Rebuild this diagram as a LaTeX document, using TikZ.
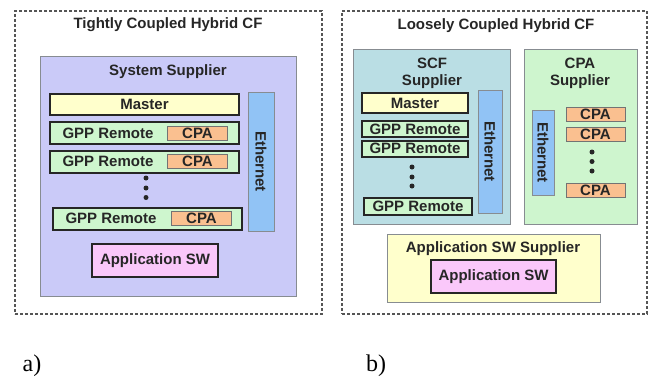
\documentclass[tikz,border=0pt]{standalone}
\usepackage{fontspec}
\setmainfont{Liberation Sans}
\newfontfamily\serifl{Liberation Serif}
\definecolor{lav}{RGB}{202,202,248}
\definecolor{myyel}{RGB}{255,255,204}
\definecolor{mygrn}{RGB}{206,246,206}
\definecolor{myorg}{RGB}{250,192,144}
\definecolor{myblu}{RGB}{145,195,245}
\definecolor{mypnk}{RGB}{250,200,250}
\definecolor{myteal}{RGB}{186,222,228}
\definecolor{cpagrn}{RGB}{206,245,206}
\definecolor{dashc}{RGB}{85,85,85}
\definecolor{contb}{RGB}{135,140,145}
\tikzset{
  txt/.style={font=\fontsize{15}{16}\selectfont\bfseries, text=black!85, inner sep=0pt},
  outerbox/.style={draw=dashc, line width=1.3pt, dash pattern=on 3pt off 2pt, inner sep=0pt},
  container/.style={draw=contb, line width=0.8pt, inner sep=0pt},
  thickbox/.style={draw=black!85, line width=2pt, inner sep=0pt, txt},
  cpabox/.style={draw=black!55, fill=myorg, line width=0.8pt, inner sep=0pt, txt, minimum width=60pt, minimum height=14pt},
  ethbox/.style={draw=contb, fill=myblu, line width=0.8pt, inner sep=0pt},
  dotm/.style={circle, fill=black!85, inner sep=0pt, minimum size=5pt},
  lbl/.style={font=\serifl\fontsize{24}{26}\selectfont, inner sep=0pt}
}
\begin{document}
\begin{tikzpicture}[x=1pt,y=-1pt]
\useasboundingbox (0,0) rectangle (654,381);
% ---------- a) ----------
\node[outerbox, minimum width=307pt, minimum height=303pt] (outA) at (168.5,162.5) {};
\node[txt] (titleA) at (168,25) {Tightly Coupled Hybrid CF};
\node[container, fill=lav, minimum width=256pt, minimum height=240pt] (sys) at (168,176) {};
\node[txt] (sysT) at (168,72) {System Supplier};
\node[thickbox, fill=myyel, minimum width=189pt, minimum height=21pt] (masterA) at (144.5,104.5) {Master};
\node[thickbox, fill=mygrn, minimum width=189pt, minimum height=22pt] (gppA1) at (144.5,133) {};
\node[txt] (gppA1t) at (108,133) {GPP Remote};
\node[cpabox] (cpaA1) at (197.5,133) {CPA};
\node[thickbox, fill=mygrn, minimum width=189pt, minimum height=22pt] (gppA2) at (144.5,161.5) {};
\node[txt] (gppA2t) at (108,161.5) {GPP Remote};
\node[cpabox] (cpaA2) at (197.5,161.5) {CPA};
\node[dotm] (dA1) at (146,178) {};
\node[dotm] (dA2) at (146,188) {};
\node[dotm] (dA3) at (146,197.5) {};
\node[thickbox, fill=mygrn, minimum width=189pt, minimum height=22pt] (gppA3) at (147.5,218.5) {};
\node[txt] (gppA3t) at (111,218.5) {GPP Remote};
\node[cpabox] (cpaA3) at (201.5,218.5) {CPA};
\node[ethbox, minimum width=26pt, minimum height=139pt] (ethA) at (261,161.5) {};
\node[txt, rotate=-90] (ethAt) at (261,161.5) {Ethernet};
\node[thickbox, fill=mypnk, minimum width=126pt, minimum height=33pt] (appA) at (155,260.5) {Application SW};
\node[lbl] (la) at (32,366) {a)};
% ---------- b) ----------
\node[outerbox, minimum width=305pt, minimum height=303pt] (outB) at (494.5,162.5) {};
\node[txt] (titleB) at (496,26) {Loosely Coupled Hybrid CF};
\node[container, fill=myteal, minimum width=157pt, minimum height=175pt] (scf) at (431.5,136.5) {};
\node[txt, align=center] (scfT) at (432,73.5) {SCF\\[1.5pt]Supplier};
\node[thickbox, fill=myyel, minimum width=106pt, minimum height=20pt] (masterB) at (415,103) {Master};
\node[thickbox, fill=mygrn, minimum width=106pt, minimum height=16pt] (gppB1) at (415,129) {GPP Remote};
\node[thickbox, fill=mygrn, minimum width=106pt, minimum height=16pt] (gppB2) at (415,148.5) {GPP Remote};
\node[dotm] (dB1) at (412,167) {};
\node[dotm] (dB2) at (412,177) {};
\node[dotm] (dB3) at (412,186) {};
\node[thickbox, fill=mygrn, minimum width=108pt, minimum height=17pt] (gppB3) at (418,206.5) {GPP Remote};
\node[ethbox, minimum width=24pt, minimum height=123pt] (ethB) at (490,151.5) {};
\node[txt, rotate=-90] (ethBt) at (490,151.5) {Ethernet};
\node[container, fill=cpagrn, minimum width=113pt, minimum height=175pt] (cpas) at (580.5,136.5) {};
\node[txt, align=center] (cpasT) at (580,73.5) {CPA\\[1.5pt]Supplier};
\node[ethbox, minimum width=22pt, minimum height=85pt] (ethC) at (543,152.5) {};
\node[txt, rotate=-90] (ethCt) at (543,152.5) {Ethernet};
\node[cpabox, minimum width=59pt] (cpaB1) at (595.5,114) {CPA};
\node[cpabox, minimum width=59pt] (cpaB2) at (595.5,134) {CPA};
\node[dotm] (dC1) at (592,152) {};
\node[dotm] (dC2) at (592,161.5) {};
\node[dotm] (dC3) at (592,171) {};
\node[cpabox, minimum width=59pt] (cpaB3) at (595.5,190) {CPA};
\node[container, fill=myyel, minimum width=213pt, minimum height=68pt] (appsup) at (493.5,268) {};
\node[txt] (appsupT) at (493,249) {Application SW Supplier};
\node[thickbox, fill=mypnk, minimum width=125pt, minimum height=33pt] (appB) at (493.5,276.5) {Application SW};
\node[lbl] (lb) at (376,366) {b)};
\end{tikzpicture}
\end{document}
